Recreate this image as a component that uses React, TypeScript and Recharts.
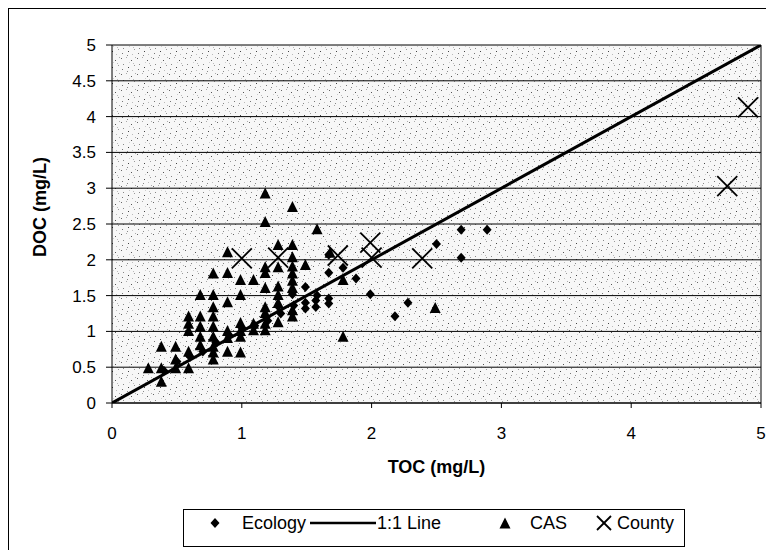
import React from "react";
import {
  ScatterChart,
  Scatter,
  XAxis,
  YAxis,
  CartesianGrid,
  ReferenceLine,
} from "recharts";

// TOC vs DOC measurements (mg/L)
const ecologyToc = [0.4, 0.5, 0.6, 0.7, 0.8, 0.9, 1.0, 1.1, 1.2, 1.28, 1.3, 1.39, 1.39, 1.4, 1.49, 1.49, 1.49, 1.57, 1.57, 1.58, 1.67, 1.67, 1.67, 1.67, 1.78, 1.88, 1.99, 2.18, 2.28, 2.5, 2.69, 2.69, 2.89];
const ecologyDoc = [0.45, 0.58, 0.65, 0.72, 0.85, 0.95, 1.05, 1.08, 1.15, 1.35, 1.25, 1.26, 1.52, 1.36, 1.32, 1.4, 1.62, 1.34, 1.43, 1.5, 1.39, 1.46, 1.82, 2.07, 1.89, 1.74, 1.52, 1.21, 1.4, 2.22, 2.03, 2.42, 2.42];

const casToc = [
  0.28,
  0.38, 0.38, 0.38,
  0.49, 0.49, 0.49,
  0.59, 0.59, 0.59, 0.59, 0.59,
  0.68, 0.68, 0.68, 0.68, 0.68,
  0.78, 0.78, 0.78, 0.78, 0.78, 0.78, 0.78, 0.78, 0.78,
  0.89, 0.89, 0.89, 0.89, 0.89, 0.89,
  0.99, 0.99, 0.99, 0.99, 0.99, 0.99,
  1.09, 1.09, 1.09,
  1.18, 1.18, 1.18, 1.18, 1.18, 1.18, 1.18, 1.18, 1.18,
  1.28, 1.28, 1.28, 1.28, 1.28, 1.28,
  1.39, 1.39, 1.39, 1.39, 1.39, 1.39, 1.39, 1.39, 1.39,
  1.49, 1.58, 1.68, 1.78, 1.78, 2.49,
];
const casDoc = [
  0.48,
  0.78, 0.48, 0.29,
  0.78, 0.6, 0.48,
  1.2, 1.1, 1.0, 0.71, 0.48,
  1.5, 1.2, 1.06, 0.92, 0.8,
  1.8, 1.5, 1.33, 1.2, 1.06, 0.92, 0.78, 0.7, 0.6,
  2.1, 1.81, 1.4, 1.0, 0.9, 0.71,
  1.71, 1.5, 1.11, 1.0, 0.92, 0.7,
  1.71, 1.1, 1.01,
  2.92, 2.52, 1.89, 1.81, 1.6, 1.33, 1.25, 1.1, 1.01,
  2.2, 1.89, 1.62, 1.5, 1.39, 1.12,
  2.73, 2.2, 2.03, 1.9, 1.8, 1.7, 1.6, 1.29, 1.2,
  1.92, 2.42, 2.09, 1.71, 0.92, 1.32,
];

const countyToc = [1.0, 1.28, 1.74, 1.99, 2.0, 2.39, 4.74, 4.9];
const countyDoc = [2.02, 2.03, 2.06, 2.24, 2.03, 2.02, 3.03, 4.13];

const lineToc = [0, 5];
const lineDoc = [0, 5];

const xTicks = [0, 1, 2, 3, 4, 5];
const yTicks = [0, 0.5, 1, 1.5, 2, 2.5, 3, 3.5, 4, 4.5, 5];

const zip = (xs: number[], ys: number[]) => xs.map((x, i) => ({ x, y: ys[i] }));

const ecologyData = zip(ecologyToc, ecologyDoc);
const casData = zip(casToc, casDoc);
const countyData = zip(countyToc, countyDoc);
const lineData = zip(lineToc, lineDoc);

const FONT = '"Liberation Sans", Arial, sans-serif';

const Diamond = (p: any) => {
  const { cx, cy } = p;
  if (cx == null || cy == null) return <g />;
  return (
    <polygon
      points={`${cx},${cy - 5} ${cx + 4.5},${cy} ${cx},${cy + 5} ${cx - 4.5},${cy}`}
      fill="#000"
    />
  );
};

const Triangle = (p: any) => {
  const { cx, cy } = p;
  if (cx == null || cy == null) return <g />;
  return (
    <polygon
      points={`${cx},${cy - 6.5} ${cx + 5.5},${cy + 4.5} ${cx - 5.5},${cy + 4.5}`}
      fill="#000"
    />
  );
};

const Cross = (p: any) => {
  const { cx, cy, r = 10 } = p;
  if (cx == null || cy == null) return <g />;
  return (
    <g stroke="#000" strokeWidth={1.8}>
      <line x1={cx - r} y1={cy - r} x2={cx + r} y2={cy + r} />
      <line x1={cx - r} y1={cy + r} x2={cx + r} y2={cy - r} />
    </g>
  );
};

const NoDot = () => <g />;

// stipple dots for the plot background tile
const stippleDots: [number, number, string][] = [
  [1, 2, "#666"], [6, 1, "#aaa"], [11, 4, "#555"], [14, 9, "#999"],
  [3, 8, "#888"], [8, 11, "#444"], [12, 14, "#bbb"], [2, 13, "#777"],
  [9, 6, "#ccc"], [15, 1, "#aaa"], [7, 15, "#888"], [13, 7, "#bbb"],
];

const YTitle = (props: any) => {
  const { x, y, height } = props.viewBox;
  const cx = x + 32;
  const cy = y + height / 2 - 17;
  return (
    <text
      x={cx}
      y={cy}
      transform={`rotate(-90 ${cx} ${cy})`}
      textAnchor="middle"
      dominantBaseline="central"
      fontFamily={FONT}
      fontWeight="bold"
      fontSize={18}
      fill="#000"
    >
      DOC (mg/L)
    </text>
  );
};

const XTitle = (props: any) => {
  const { x, y, width } = props.viewBox;
  return (
    <text
      x={x + width / 2}
      y={y + 64}
      textAnchor="middle"
      dominantBaseline="central"
      fontFamily={FONT}
      fontWeight="bold"
      fontSize={18}
      fill="#000"
    >
      TOC (mg/L)
    </text>
  );
};

const legendText: React.CSSProperties = {
  position: "absolute",
  top: 2,
  fontFamily: FONT,
  fontSize: 18,
  lineHeight: "22px",
  color: "#000",
  whiteSpace: "nowrap",
};

const ChartLegend = () => (
  <div
    style={{
      position: "absolute",
      left: 174,
      top: 500,
      width: 500,
      height: 36,
      border: "1px solid #000",
      background: "#fff",
    }}
  >
    <svg width={500} height={36} style={{ position: "absolute", left: 0, top: 0 }}>
      <Diamond cx={31} cy={13} />
      <line x1={126} y1={13} x2={192} y2={13} stroke="#000" strokeWidth={2.5} />
      <Triangle cx={321} cy={14} />
      <Cross cx={420} cy={13} r={7} />
    </svg>
    <span style={{ ...legendText, left: 58 }}>Ecology</span>
    <span style={{ ...legendText, left: 193 }}>1:1 Line</span>
    <span style={{ ...legendText, left: 346 }}>CAS</span>
    <span style={{ ...legendText, left: 433 }}>County</span>
  </div>
);

export default function App() {
  return (
    <div
      style={{
        position: "relative",
        width: 766,
        height: 542,
        borderLeft: "1px solid #000",
        borderTop: "1px solid #000",
        boxSizing: "border-box",
        background: "#fff",
      }}
    >
      <svg width={0} height={0} style={{ position: "absolute" }}>
        <defs>
          <pattern id="stipple" width={16} height={16} patternUnits="userSpaceOnUse">
            <rect width={16} height={16} fill="#f7f7f7" />
            {stippleDots.map(([x, y, c], i) => (
              <rect key={i} x={x} y={y} width={1} height={1} fill={c} />
            ))}
          </pattern>
        </defs>
      </svg>
      <div style={{ position: "absolute", left: -1, top: -1 }}>
        <ScatterChart
          width={766}
          height={542}
          margin={{ top: 37, right: 13, left: 0, bottom: 0 }}
        >
          <CartesianGrid
            vertical={false}
            stroke="#000"
            strokeWidth={1}
            fill="url(#stipple)"
            fillOpacity={1}
          />
          <XAxis
            type="number"
            dataKey="x"
            domain={[0, 5]}
            ticks={xTicks}
            height={147}
            tickSize={5}
            tickMargin={19}
            axisLine={{ stroke: "#000" }}
            tickLine={{ stroke: "#000" }}
            tick={{ fill: "#000", fontSize: 17, fontFamily: FONT }}
            allowDataOverflow
            label={XTitle}
          />
          <YAxis
            type="number"
            dataKey="y"
            domain={[0, 5]}
            ticks={yTicks}
            width={104}
            tickSize={6}
            tickMargin={10}
            axisLine={{ stroke: "#000" }}
            tickLine={{ stroke: "#000" }}
            tick={{ fill: "#000", fontSize: 17, fontFamily: FONT }}
            allowDataOverflow
            label={YTitle}
          />
          <ReferenceLine x={5} stroke="#000" strokeWidth={1} />
          <Scatter
            name="Ecology"
            data={ecologyData}
            shape={Diamond}
            isAnimationActive={false}
          />
          <Scatter
            name="1:1 Line"
            data={lineData}
            shape={NoDot}
            line={{ stroke: "#000", strokeWidth: 3 }}
            isAnimationActive={false}
          />
          <Scatter
            name="CAS"
            data={casData}
            shape={Triangle}
            isAnimationActive={false}
          />
          <Scatter
            name="County"
            data={countyData}
            shape={Cross}
            isAnimationActive={false}
          />
        </ScatterChart>
      </div>
      <ChartLegend />
    </div>
  );
}
